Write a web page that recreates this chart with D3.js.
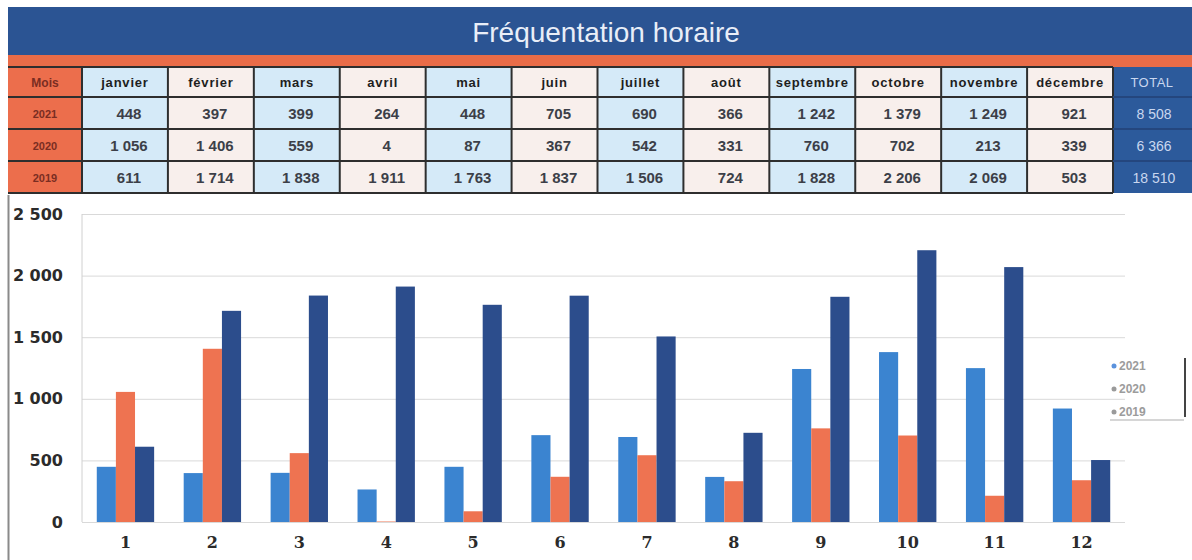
<!DOCTYPE html>
<html>
<head>
<meta charset="utf-8">
<script src="https://d3js.org/d3.v7.min.js"></script>
<style>
  body { margin: 0; background: #fff; }
  svg { display: block; font-family: "Liberation Sans", Arial, sans-serif; }
</style>
</head>
<body>
<div id="chart"></div>
<script>
var months = ['janvier', 'février', 'mars', 'avril', 'mai', 'juin', 'juillet', 'août', 'septembre', 'octobre', 'novembre', 'décembre'];
var monthNums = ['1', '2', '3', '4', '5', '6', '7', '8', '9', '10', '11', '12'];
var years = ['2021', '2020', '2019'];
var v2021 = [448, 397, 399, 264, 448, 705, 690, 366, 1242, 1379, 1249, 921];
var v2020 = [1056, 1406, 559, 4, 87, 367, 542, 331, 760, 702, 213, 339];
var v2019 = [611, 1714, 1838, 1911, 1763, 1837, 1506, 724, 1828, 2206, 2069, 503];
var yTicks = [0, 500, 1000, 1500, 2000, 2500];

var series = [v2021, v2020, v2019];
var barColors = ['#3b84d0', '#ee7351', '#2c4d8c'];

var fr = d3.formatLocale({decimal: ',', thousands: ' ', grouping: [3], currency: ['', ' €']});
var fmt = fr.format(',d');

var width = 1192, height = 560;
var svg = d3.select('#chart').append('svg')
  .attr('width', width)
  .attr('height', height);

// ---------- title bar ----------
svg.append('rect').attr('x', 8).attr('y', 7).attr('width', width - 8).attr('height', 49).attr('fill', '#2b5493');
svg.append('rect').attr('x', 8).attr('y', 55).attr('width', width - 8).attr('height', 12).attr('fill', '#e96c48');
svg.append('text')
  .attr('x', 606).attr('y', 42)
  .attr('text-anchor', 'middle')
  .attr('fill', '#e9eef8')
  .style('font-size', '28px')
  .text('Fréquentation horaire');

// ---------- table ----------
var tx = d3.scaleBand().domain(d3.range(12)).range([82, 1113]);
var rowY = [67, 97, 129, 161, 193];
var cellFill = function(i) { return i % 2 === 0 ? '#d5eaf8' : '#f8efec'; };

var table = svg.append('g');

// Mois column
table.append('rect').attr('x', 8).attr('y', 67).attr('width', 74).attr('height', 126).attr('fill', '#ec6e4c');
// TOTAL column
table.append('rect').attr('x', 1113).attr('y', 67).attr('width', 79).attr('height', 126).attr('fill', '#2c5a9b');

table.selectAll('rect.col')
  .data(months)
  .enter().append('rect')
  .attr('class', 'col')
  .attr('x', function(d, i) { return tx(i); })
  .attr('y', 67)
  .attr('width', tx.bandwidth())
  .attr('height', 126)
  .attr('fill', function(d, i) { return cellFill(i); });

// grid lines
var lineCol = '#2e2e2e';
rowY.forEach(function(y) {
  table.append('line').attr('x1', 8).attr('x2', 1113).attr('y1', y).attr('y2', y)
    .attr('stroke', lineCol).attr('stroke-width', 2);
});
d3.range(13).forEach(function(i) {
  var x = i < 12 ? tx(i) : 1113;
  table.append('line').attr('x1', x).attr('x2', x).attr('y1', 67).attr('y2', 193)
    .attr('stroke', lineCol).attr('stroke-width', 2);
});
[97, 129, 161].forEach(function(y) {
  table.append('line').attr('x1', 1113).attr('x2', 1192).attr('y1', y).attr('y2', y)
    .attr('stroke', '#24467e').attr('stroke-width', 2);
});

// header texts
table.append('text').attr('x', 45).attr('y', 87).attr('text-anchor', 'middle')
  .attr('fill', '#7a2d22').style('font-size', '12px').style('font-weight', 'bold').text('Mois');
table.selectAll('text.month')
  .data(months)
  .enter().append('text')
  .attr('class', 'month')
  .attr('x', function(d, i) { return tx(i) + tx.bandwidth() / 2; })
  .attr('y', 87)
  .attr('text-anchor', 'middle')
  .attr('fill', '#1e1e1e')
  .style('font-size', '13px')
  .style('font-weight', 'bold')
  .style('letter-spacing', '0.8px')
  .text(function(d) { return d; });
table.append('text').attr('x', 1152).attr('y', 87).attr('text-anchor', 'middle')
  .attr('fill', '#c9d7ef').style('font-size', '13px').style('letter-spacing', '0.5px').text('TOTAL');

// rows
years.forEach(function(yr, r) {
  var cy = (rowY[r + 1] + rowY[r + 2]) / 2 + 5;
  table.append('text').attr('x', 45).attr('y', cy).attr('text-anchor', 'middle')
    .attr('fill', '#7a2d22').style('font-size', '11px').style('font-weight', 'bold').text(yr);
  table.selectAll('text.v' + yr)
    .data(series[r])
    .enter().append('text')
    .attr('x', function(d, i) { return tx(i) + tx.bandwidth() / 2 + 4; })
    .attr('y', cy + 1)
    .attr('text-anchor', 'middle')
    .attr('fill', '#3c3f48')
    .style('font-size', '15px')
    .style('font-weight', 'bold')
    .text(function(d) { return fmt(d); });
  table.append('text').attr('x', 1154).attr('y', cy + 1).attr('text-anchor', 'middle')
    .attr('fill', '#c9d7ef').style('font-size', '14px')
    .text(fmt(d3.sum(series[r])));
});

// ---------- chart ----------
svg.append('line').attr('x1', 8.5).attr('x2', 8.5).attr('y1', 195).attr('y2', height)
  .attr('stroke', '#8a8a8a').attr('stroke-width', 2);

var x0 = d3.scaleBand().domain(monthNums).range([82, 1125]).paddingInner(0.34).paddingOuter(0.17);
var x1 = d3.scaleBand().domain(years).range([0, x0.bandwidth()]);
var y = d3.scaleLinear().domain([0, 2500]).range([522, 214]);

var plot = svg.append('g');

plot.append('g')
  .attr('transform', 'translate(82,0)')
  .call(d3.axisLeft(y).tickValues(yTicks).tickSize(-1043).tickFormat(''))
  .call(function(g) {
    g.select('.domain').remove();
    g.selectAll('line').attr('stroke', '#d9d9d9');
  });
plot.append('line').attr('x1', 82).attr('x2', 82).attr('y1', 214).attr('y2', 522)
  .attr('stroke', '#d0d0d0');

var groups = plot.selectAll('g.grp')
  .data(monthNums)
  .enter().append('g')
  .attr('class', 'grp')
  .attr('transform', function(d) { return 'translate(' + x0(d) + ',0)'; });

groups.selectAll('rect')
  .data(function(d, i) { return years.map(function(yr, r) { return {yr: yr, v: series[r][i], c: barColors[r]}; }); })
  .enter().append('rect')
  .attr('x', function(d) { return x1(d.yr); })
  .attr('y', function(d) { return y(d.v); })
  .attr('width', x1.bandwidth())
  .attr('height', function(d) { return y(0) - y(d.v); })
  .attr('fill', function(d) { return d.c; });

// y labels
plot.append('g')
  .attr('transform', 'translate(66,0)')
  .call(d3.axisLeft(y).tickValues(yTicks).tickSize(0).tickFormat(fmt))
  .call(function(g) {
    g.select('.domain').remove();
    g.selectAll('text')
      .attr('fill', '#2b2b2b')
      .style('font-family', '"DejaVu Sans", sans-serif')
      .style('font-weight', 'bold')
      .style('font-size', '16px');
  });

// x labels
plot.append('g')
  .attr('transform', 'translate(0,534)')
  .call(d3.axisBottom(x0).tickSize(0))
  .call(function(g) {
    g.select('.domain').remove();
    g.selectAll('text')
      .attr('fill', '#2b2b2b')
      .style('font-family', '"DejaVu Serif", serif')
      .style('font-weight', 'bold')
      .style('font-size', '16px');
  });

// legend
var legend = svg.append('g').attr('transform', 'translate(1114,366)');
var legItems = legend.selectAll('g')
  .data(years)
  .enter().append('g')
  .attr('transform', function(d, i) { return 'translate(0,' + (i * 23) + ')'; });
legItems.append('circle').attr('r', 2.5).attr('cx', 0).attr('cy', 0)
  .attr('fill', function(d, i) { return i === 0 ? '#5b92dc' : '#9a9a9a'; });
legItems.append('text').attr('x', 5).attr('y', 4)
  .attr('fill', '#9c9c9c')
  .style('font-size', '12px')
  .style('font-weight', 'bold')
  .text(function(d) { return d; });
legend.append('line').attr('x1', 71).attr('x2', 71).attr('y1', -8).attr('y2', 51)
  .attr('stroke', '#444').attr('stroke-width', 2);
legend.append('line').attr('x1', -4).attr('x2', 70).attr('y1', 54).attr('y2', 54)
  .attr('stroke', '#c8c8c8').attr('stroke-width', 1.5);
</script>
</body>
</html>
